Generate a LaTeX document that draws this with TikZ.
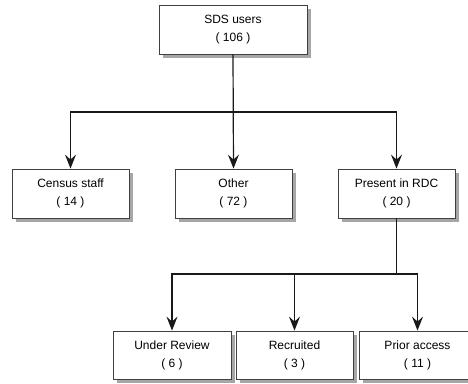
\documentclass[tikz,border=0pt]{standalone}
\usepackage{fontspec}
\setmainfont{Liberation Sans}
\usetikzlibrary{arrows.meta,shadows}
\tikzset{
  box/.style={draw=black!75, line width=0.8pt, fill=white, align=center,
    inner sep=0pt, font=\fontsize{12}{18}\selectfont,
    drop shadow={shadow xshift=4pt, shadow yshift=-4pt, fill=black!35, opacity=1}},
  conn/.style={draw=black!90, line width=1.2pt},
  arr/.style={conn, -{Stealth[length=14pt, width=11pt, inset=5pt]}}
}
\begin{document}
\begin{tikzpicture}[x=1pt, y=-1pt]
\useasboundingbox (0,0) rectangle (468,383);
\node[box, minimum width=148pt, minimum height=49pt] (top) at (233,29.5) {SDS users\\( 106 )};
\node[box, minimum width=117pt, minimum height=49pt] (census) at (70.5,193.5) {Census staff\\( 14 )};
\node[box, minimum width=117pt, minimum height=49pt] (other) at (233.5,193.5) {Other\\( 72 )};
\node[box, minimum width=117pt, minimum height=49pt] (rdc) at (396.5,193.5) {Present in RDC\\( 20 )};
\node[box, minimum width=118pt, minimum height=48pt] (ur) at (172,355) {Under Review\\( 6 )};
\node[box, minimum width=117pt, minimum height=48pt] (rec) at (294.5,355) {Recruited\\( 3 )};
\node[box, minimum width=117pt, minimum height=48pt] (pa) at (417.5,355) {Prior access\\( 11 )};
\coordinate (j1) at (233.5,112);
\coordinate (j2) at (396.5,274);
\draw[arr] (top.south) -- (other.north);
\draw[arr] (j1) -| (census.north);
\draw[arr] (j1) -| (rdc.north);
\draw[conn] (rdc.south) -- (j2);
\draw[arr] (j2) -| (ur.north);
\draw[arr] (j2) -| (rec.north);
\draw[arr] (j2) -| (pa.north);
\end{tikzpicture}
\end{document}
